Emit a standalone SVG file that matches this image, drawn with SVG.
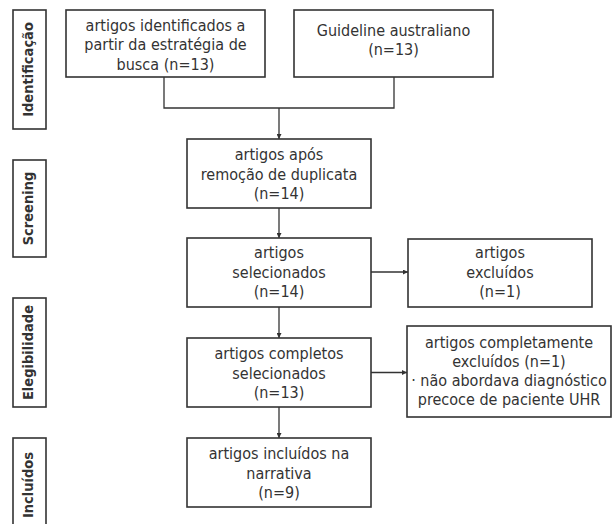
<svg xmlns="http://www.w3.org/2000/svg" width="613" height="524" viewBox="0 0 613 524">
<style>
.box{fill:#fff;stroke:#333;stroke-width:1.6}
.t{font-family:"DejaVu Sans Condensed","DejaVu Sans",sans-serif;font-stretch:condensed;font-size:16px;fill:#333;text-anchor:middle}
.s{font-family:"DejaVu Sans Condensed","DejaVu Sans",sans-serif;font-stretch:condensed;font-size:14.5px;font-weight:bold;fill:#333;text-anchor:middle}
.c{fill:none;stroke:#333;stroke-width:1.3}
</style>
<defs>
<marker id="ah" viewBox="0 0 10 10" refX="10" refY="5" markerWidth="5" markerHeight="5" orient="auto" markerUnits="userSpaceOnUse">
<path d="M0,0 L10,5 L0,10 z" fill="#333"/>
</marker>
</defs>
<rect width="613" height="524" fill="#fff"/>
<g id="stage-identificacao"><rect class="box" x="13" y="10" width="33" height="119"/><text class="s" transform="translate(33,69.5) rotate(-90)">Identificação</text></g>
<g id="stage-screening"><rect class="box" x="13" y="160" width="33" height="97"/><text class="s" transform="translate(33,208.5) rotate(-90)">Screening</text></g>
<g id="stage-elegibilidade"><rect class="box" x="13" y="298" width="33" height="109"/><text class="s" transform="translate(33,352.5) rotate(-90)">Elegibilidade</text></g>
<g id="stage-incluidos"><rect class="box" x="13" y="438" width="33" height="100"/><text class="s" transform="translate(33,485) rotate(-90)">Incluídos</text></g>
<g id="connectors">
<path class="c" d="M164,77 V108 H394 V77"/>
<path class="c" d="M279,108 V139" marker-end="url(#ah)"/>
<path class="c" d="M279,208 V238" marker-end="url(#ah)"/>
<path class="c" d="M279,307 V338" marker-end="url(#ah)"/>
<path class="c" d="M279,407 V438" marker-end="url(#ah)"/>
<path class="c" d="M371,272 H408" marker-end="url(#ah)"/>
<path class="c" d="M371,372.5 H407" marker-end="url(#ah)"/>
</g>
<g id="n1"><rect class="box" x="66" y="10" width="199" height="67"/><text class="t" x="165.5" y="31">artigos identificados a</text><text class="t" x="165.5" y="50">partir da estratégia de</text><text class="t" x="165.5" y="70">busca (n=13)</text></g>
<g id="n2"><rect class="box" x="294" y="10" width="199" height="67"/><text class="t" x="393.5" y="36">Guideline australiano</text><text class="t" x="393.5" y="55">(n=13)</text></g>
<g id="n3"><rect class="box" x="187" y="139" width="184" height="69"/><text class="t" x="279" y="160">artigos após</text><text class="t" x="279" y="179.5">remoção de duplicata</text><text class="t" x="279" y="199">(n=14)</text></g>
<g id="n4"><rect class="box" x="187" y="238" width="184" height="69"/><text class="t" x="279" y="258">artigos</text><text class="t" x="279" y="278">selecionados</text><text class="t" x="279" y="297">(n=14)</text></g>
<g id="n5"><rect class="box" x="408" y="239" width="184" height="68"/><text class="t" x="500" y="258">artigos</text><text class="t" x="500" y="278">excluídos</text><text class="t" x="500" y="297">(n=1)</text></g>
<g id="n6"><rect class="box" x="187" y="338" width="184" height="69"/><text class="t" x="279" y="359">artigos completos</text><text class="t" x="279" y="378.5">selecionados</text><text class="t" x="279" y="398">(n=13)</text></g>
<g id="n7"><rect class="box" x="407" y="326" width="204" height="91"/><text class="t" x="509" y="347.5">artigos completamente</text><text class="t" x="509" y="366.5">excluídos (n=1)</text><text class="t" x="509" y="386">· não abordava diagnóstico</text><text class="t" x="509" y="405">precoce de paciente UHR</text></g>
<g id="n8"><rect class="box" x="187" y="438" width="184" height="69"/><text class="t" x="279" y="459">artigos incluídos na</text><text class="t" x="279" y="478.5">narrativa</text><text class="t" x="279" y="498">(n=9)</text></g>
</svg>
